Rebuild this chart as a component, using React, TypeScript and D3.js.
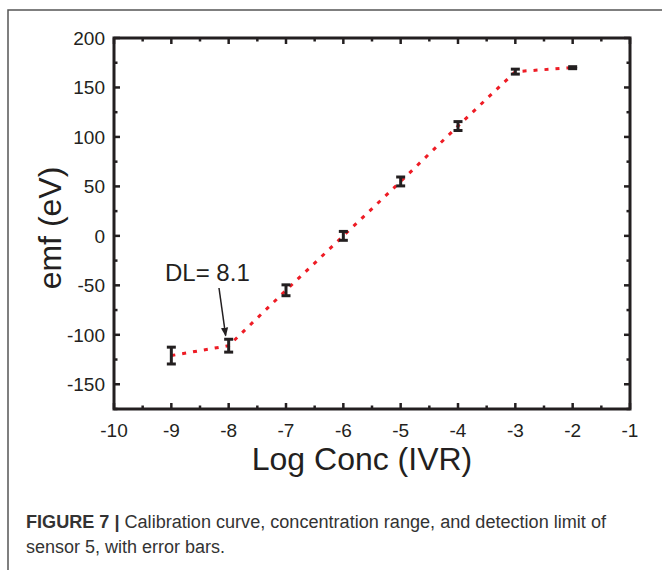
import React from 'react';
import * as d3 from 'd3';

const logConc = [-9, -8, -7, -6, -5, -4, -3, -2];
const emf = [-121, -111, -55, 0, 55, 111, 166, 170];
const emfErr = [8.5, 6.5, 5.5, 4.5, 4.5, 4.5, 2.5, 1];
const xTicks = [-10, -9, -8, -7, -6, -5, -4, -3, -2, -1];
const yTicks = [-150, -100, -50, 0, 50, 100, 150, 200];
const xTitle = 'Log Conc (IVR)';
const yTitle = 'emf (eV)';
const annotation = 'DL= 8.1';
const annotX = -8;

const W = 662, H = 570;
const left = 114, right = 630, top = 38, bottom = 409;

export default function App() {
  const x = d3.scaleLinear().domain([-10, -1]).range([left, right]);
  const y = d3.scaleLinear().domain([-175, 200]).range([bottom, top]);
  const xMinor = d3.range(-9.5, -1, 1);
  const yMinor = d3.range(-175, 200, 50);
  const line = d3.line<number>().x((_, i) => x(logConc[i])).y((d) => y(d));
  const font = 'Liberation Sans, Arial, Helvetica, sans-serif';
  const ink = '#231f20';
  const maj = 6, mnr = 3.5;
  return (
    <svg width={W} height={H} style={{ position: 'absolute', left: 0, top: 0, background: '#fff' }} fontFamily={font}>
      <defs>
        <marker id="ah" viewBox="0 0 10 10" refX="9" refY="5" markerWidth="9" markerHeight="9" orient="auto" markerUnits="userSpaceOnUse">
          <path d="M0,1 L10,5 L0,9 Z" fill={ink} />
        </marker>
      </defs>
      <path d={`M8,${H} V10 H${W}`} fill="none" stroke="#555" strokeWidth={1.5} />
      {/* ticks */}
      <g stroke={ink} strokeWidth={2.5}>
        {xTicks.map((t) => (
          <g key={'xt' + t}>
            <line x1={x(t)} x2={x(t)} y1={bottom} y2={bottom - maj} />
            <line x1={x(t)} x2={x(t)} y1={top} y2={top + maj} />
          </g>
        ))}
        {xMinor.map((t) => (
          <g key={'xm' + t}>
            <line x1={x(t)} x2={x(t)} y1={bottom} y2={bottom - mnr} />
            <line x1={x(t)} x2={x(t)} y1={top} y2={top + mnr} />
          </g>
        ))}
        {yTicks.map((t) => (
          <g key={'yt' + t}>
            <line x1={left} x2={left + maj} y1={y(t)} y2={y(t)} />
            <line x1={right} x2={right - maj} y1={y(t)} y2={y(t)} />
          </g>
        ))}
        {yMinor.map((t) => (
          <g key={'ym' + t}>
            <line x1={left} x2={left + mnr} y1={y(t)} y2={y(t)} />
            <line x1={right} x2={right - mnr} y1={y(t)} y2={y(t)} />
          </g>
        ))}
      </g>
      <rect x={left} y={top} width={right - left} height={bottom - top} fill="none" stroke={ink} strokeWidth={3} />
      {/* tick labels */}
      <g fontSize={19} fill={ink}>
        {xTicks.map((t) => (
          <text key={'xl' + t} x={x(t)} y={437} textAnchor="middle">{t}</text>
        ))}
        {yTicks.map((t) => (
          <text key={'yl' + t} x={105} y={y(t) + 7} textAnchor="end">{t}</text>
        ))}
      </g>
      <text x={362} y={470} fontSize={32} textAnchor="middle" fill={ink}>{xTitle}</text>
      <text transform={`translate(61,${228}) rotate(-90)`} fontSize={32} textAnchor="middle" fill={ink}>{yTitle}</text>
      {/* fit line */}
      <path d={line(emf) || ''} fill="none" stroke="#ee1c25" strokeWidth={3} strokeDasharray="4 7" />
      {/* error bars */}
      <g stroke={ink} strokeWidth={3}>
        {logConc.map((c, i) => {
          const cx = x(c), y1 = y(emf[i] - emfErr[i]), y2 = y(emf[i] + emfErr[i]);
          return (
            <g key={'e' + i}>
              <line x1={cx} x2={cx} y1={y1} y2={y2} />
              <line x1={cx - 4.5} x2={cx + 4.5} y1={y1} y2={y1} />
              <line x1={cx - 4.5} x2={cx + 4.5} y1={y2} y2={y2} />
            </g>
          );
        })}
      </g>
      {/* annotation */}
      <text x={165} y={281} fontSize={24} fill={ink}>{annotation}</text>
      <line x1={219} y1={288} x2={x(annotX) - 3} y2={y(-111) - 10} stroke={ink} strokeWidth={1.5} markerEnd="url(#ah)" />
      {/* caption */}
      <text x={26} y={528} fontSize={18} fill="#333" textLength={580} lengthAdjust="spacingAndGlyphs">
        <tspan fontWeight="bold">FIGURE 7 |</tspan>
        <tspan> Calibration curve, concentration range, and detection limit of</tspan>
      </text>
      <text x={26} y={553} fontSize={18} fill="#333" textLength={199} lengthAdjust="spacingAndGlyphs">sensor 5, with error bars.</text>
    </svg>
  );
}
